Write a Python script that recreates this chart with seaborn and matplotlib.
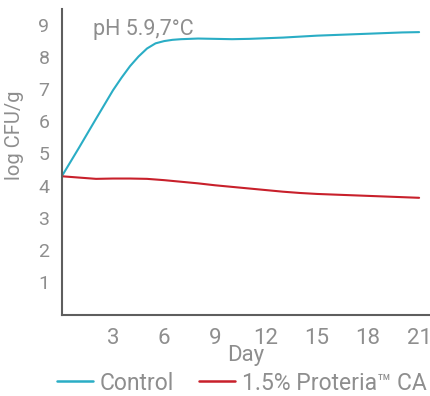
import matplotlib
matplotlib.use("Agg")
import matplotlib.pyplot as plt
import seaborn as sns
import pandas as pd
from matplotlib.lines import Line2D

control_days = [0, 1, 2, 3, 3.5, 4, 4.5, 5, 5.5, 6, 6.5, 7, 8, 9, 10,
                11, 12, 13, 14, 15, 16, 17, 18, 19, 20, 21]
control = [4.30, 5.18, 6.08, 6.97, 7.36, 7.72, 8.02, 8.27, 8.43, 8.50, 8.54, 8.56, 8.58, 8.57, 8.56,
           8.57, 8.59, 8.61, 8.64, 8.67, 8.69, 8.71, 8.73, 8.75, 8.77, 8.78]
proteria_days = list(range(0, 22))
proteria = [4.29, 4.25, 4.21, 4.22, 4.22, 4.21, 4.17, 4.12, 4.07, 4.01, 3.96,
            3.91, 3.86, 3.81, 3.77, 3.74, 3.72, 3.70, 3.68, 3.66, 3.64, 3.62]
series_names = ["Control", "1.5% Proteria\u2122 CA"]
x_ticks = [3, 6, 9, 12, 15, 18, 21]
y_ticks = [1, 2, 3, 4, 5, 6, 7, 8, 9]
annotation = "pH 5.9,7\u00b0C"

sns.set_theme(style="white")
plt.rcParams["font.family"] = ["Roboto", "DejaVu Sans"]

df = pd.DataFrame({
    "Day": control_days + proteria_days,
    "value": control + proteria,
    "series": [series_names[0]] * len(control_days) + [series_names[1]] * len(proteria_days),
})

colors = {series_names[0]: "#2AADC5", series_names[1]: "#C8202B"}
grey = "#8e8e8e"
spine = "#5e5e5e"

fig = plt.figure(figsize=(4.31, 3.96), dpi=100)
ax = fig.add_axes([62 / 431, 1 - 315 / 396, (431 - 62) / 431, (315 - 9) / 396])

sns.lineplot(data=df, x="Day", y="value", hue="series", palette=colors,
             linewidth=1.5, ax=ax, legend=False, errorbar=None, sort=True)

ax.set_xlim(0, 21.7)
ax.set_ylim(-0.03, 9.5)
ax.set_xticks(x_ticks)
ax.set_yticks(y_ticks)
ax.set_xlabel("")
ax.set_ylabel("")

for s in ["top", "right"]:
    ax.spines[s].set_visible(False)
for s in ["left", "bottom"]:
    ax.spines[s].set_color(spine)
    ax.spines[s].set_linewidth(1.5)

ax.tick_params(axis="both", direction="out", length=6, width=1.4, color=spine,
               labelcolor=grey)
ax.tick_params(axis="y", labelsize=14, pad=3)
ax.tick_params(axis="x", labelsize=16, pad=3)

fig.text(15 / 431, 1 - 135 / 396, "log CFU/g", rotation=90, ha="center",
         va="center", fontsize=14.5, color=grey)
fig.text(246 / 431, 1 - 356 / 396, "Day", ha="center", va="center",
         fontsize=16, color=grey)
fig.text(93 / 431, 1 - 35 / 396, annotation, ha="left", va="baseline",
         fontsize=15.5, color=grey)

handles = [Line2D([], [], color=colors[n], linewidth=1.8) for n in series_names]
leg = fig.legend(handles, series_names, loc="center", ncol=2,
                 bbox_to_anchor=(242 / 431, 1 - 383 / 396), frameon=False,
                 fontsize=16.5, handlelength=1.55, handletextpad=0.3,
                 columnspacing=1.1, borderpad=0, borderaxespad=0)
for t in leg.get_texts():
    t.set_color(grey)

fig.savefig("out.png", dpi=100, facecolor="white")
